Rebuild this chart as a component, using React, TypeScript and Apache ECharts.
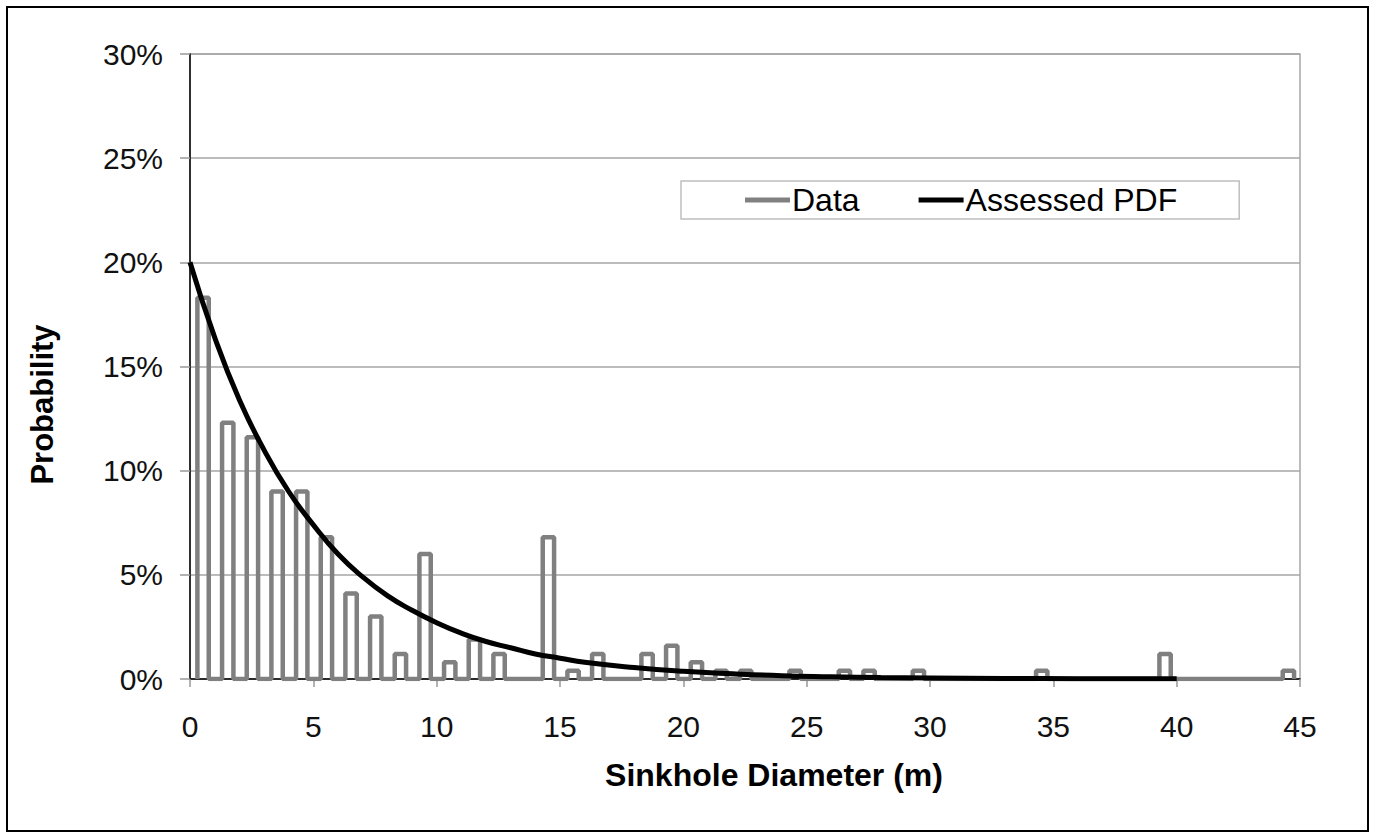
import React, { useEffect, useRef } from "react";
import * as echarts from "echarts";

// Histogram bins (centre = i + 0.5 m), probability in %
const binStarts: number[] = [
  0, 1, 2, 3, 4, 5, 6, 7, 8, 9, 10, 11, 12, 13, 14, 15, 16, 17, 18, 19, 20, 21, 22,
  23, 24, 25, 26, 27, 28, 29, 30, 31, 32, 33, 34, 35, 36, 37, 38, 39, 40, 41, 42, 43, 44,
];
const binValues: number[] = [
  18.3, 12.3, 11.6, 9.0, 9.0, 6.8, 4.1, 3.0, 1.2, 6.0, 0.8, 1.9, 1.2, 0, 6.8, 0.4, 1.2, 0,
  1.2, 1.6, 0.8, 0.4, 0.4, 0, 0.4, 0, 0.4, 0.4, 0, 0.4, 0, 0, 0, 0, 0.4, 0, 0, 0, 0, 1.2,
  0, 0, 0, 0, 0.4,
];

// Assessed PDF
const pdfX: number[] = [0, 1, 2, 3, 4, 5, 6, 7, 8, 9, 10, 11, 12, 13, 14, 15, 16, 18, 20, 22, 24, 26, 28, 30, 33, 36, 40];
const pdfY: number[] = [
  20.0, 16.4, 13.4, 11.0, 9.0, 7.4, 6.0, 4.9, 4.0, 3.3, 2.7, 2.2, 1.8, 1.5, 1.2, 1.0, 0.8,
  0.55, 0.37, 0.25, 0.16, 0.11, 0.07, 0.05, 0.03, 0.015, 0.007,
];

const yTicks: number[] = [0, 5, 10, 15, 20, 25, 30];
const xTicks: number[] = [0, 5, 10, 15, 20, 25, 30, 35, 40, 45];

const BAR_LEFT = 0.3;
const BAR_RIGHT = 0.76;

const FONT = "'Liberation Sans', Arial, Helvetica, sans-serif";

export default function App() {
  const ref = useRef<HTMLDivElement>(null);
  useEffect(() => {
    if (!ref.current) return;
    const chart = echarts.init(ref.current, undefined, { renderer: "svg" });

    const histData: number[][] = [];
    binStarts.forEach((s, i) => {
      const v = binValues[i];
      histData.push([s + BAR_LEFT, 0]);
      histData.push([s + BAR_LEFT, v]);
      histData.push([s + BAR_RIGHT, v]);
      histData.push([s + BAR_RIGHT, 0]);
    });
    const pdfData = pdfX.map((x, i) => [x, pdfY[i]]);

    chart.setOption({
      animation: false,
      backgroundColor: "#ffffff",
      textStyle: { fontFamily: FONT },
      grid: {
        left: 190,
        right: 75,
        top: 54,
        bottom: 159,
        show: true,
        borderColor: "#a6a6a6",
        borderWidth: 1.5,
        backgroundColor: "transparent",
      },
      legend: {
        left: 681,
        top: 181,
        orient: "horizontal",
        icon: "rect",
        itemWidth: 45,
        itemHeight: 5,
        itemGap: 59,
        padding: [3, 62, 3, 64],
        borderColor: "#bfbfbf",
        borderWidth: 1.5,
        backgroundColor: "#ffffff",
        textStyle: { fontSize: 32, color: "#000", fontFamily: FONT, padding: [0, 0, 0, -3] },
        data: ["Data", "Assessed PDF"],
      },
      xAxis: {
        type: "value",
        min: 0,
        max: 45,
        interval: 5,
        name: "Sinkhole Diameter (m)",
        nameLocation: "middle",
        nameGap: 80,
        nameTextStyle: {
          fontSize: 32,
          fontWeight: "bold",
          color: "#000",
          fontFamily: FONT,
          padding: [0, 0, 0, 58],
        },
        axisLine: { show: true, onZero: false, lineStyle: { color: "#000", width: 1.5 } },
        axisTick: { show: true, length: 8, lineStyle: { color: "#999", width: 1.5 } },
        axisLabel: {
          fontSize: 30,
          color: "#111",
          margin: 32,
          formatter: (v: number) => (xTicks.indexOf(v) >= 0 ? String(v) : ""),
        },
        splitLine: { show: false },
      },
      yAxis: {
        type: "value",
        min: 0,
        max: 30,
        interval: 5,
        name: "Probability",
        nameLocation: "middle",
        nameGap: 132,
        nameTextStyle: {
          fontSize: 31,
          fontWeight: "bold",
          color: "#000",
          fontFamily: FONT,
          padding: [0, 76, 0, 0],
        },
        axisLine: { show: true, lineStyle: { color: "#000", width: 1.5 } },
        axisTick: { show: true, length: 10, lineStyle: { color: "#999", width: 1.5 } },
        axisLabel: {
          fontSize: 30,
          color: "#111",
          margin: 27,
          formatter: (v: number) => (yTicks.indexOf(v) >= 0 ? v + "%" : ""),
        },
        splitLine: { show: true, lineStyle: { color: "#a6a6a6", width: 1.5 } },
      },
      series: [
        {
          name: "Data",
          type: "line",
          data: histData,
          symbol: "none",
          color: "#808080",
          lineStyle: { color: "#808080", width: 4.5 },
          z: 3,
        },
        {
          name: "Assessed PDF",
          type: "line",
          data: pdfData,
          symbol: "none",
          smooth: 0.5,
          color: "#000000",
          lineStyle: { color: "#000000", width: 5 },
          z: 4,
        },
      ],
      graphic: [
        {
          type: "rect",
          shape: { x: 7, y: 7, width: 1361, height: 824 },
          style: { fill: "none", stroke: "#000", lineWidth: 2 },
          silent: true,
          z: 100,
        },
      ],
    });
    return () => chart.dispose();
  }, []);
  return (
    <div
      ref={ref}
      style={{ position: "absolute", left: 0, top: 0, width: 1375, height: 838 }}
    />
  );
}
